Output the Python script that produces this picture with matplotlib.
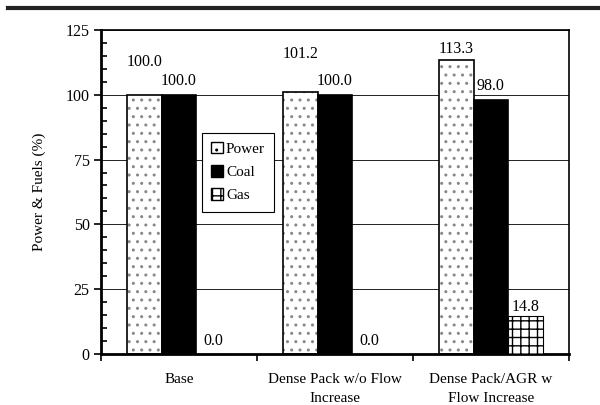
import numpy as np
import matplotlib.pyplot as plt
from matplotlib.lines import Line2D
from matplotlib.patches import Patch
from matplotlib.ticker import MultipleLocator

plt.rcParams['font.family'] = ['Liberation Serif', 'DejaVu Serif']
plt.rcParams['hatch.linewidth'] = 1.0

# data
categories = ['Base', 'Dense Pack w/o Flow\nIncrease', 'Dense Pack/AGR w\nFlow Increase']
power = [100.0, 101.2, 113.3]
coal = [100.0, 100.0, 98.0]
gas = [0.0, 0.0, 14.8]
# vertical offset of the value labels (as placed in the original)
power_lbl_off = [12.5, 14.4, 4.4]
coal_lbl_off = [5.2, 5.2, 5.2]
gas_lbl_off = [5.0, 5.0, 3.4]

fig = plt.figure(figsize=(6, 4.05), dpi=100)
ax = fig.add_axes([0.168, 0.126, 0.78, 0.8])

x = np.arange(len(categories))
w = 0.221

# power: grey dotted pattern, black outline
ax.bar(x - w, power, w, color='white', edgecolor='#888888', hatch='..', linewidth=0, zorder=2)
ax.bar(x - w, power, w, fill=False, edgecolor='black', linewidth=1.2, zorder=3)
ax.bar(x, coal, w, color='black', edgecolor='black', linewidth=1.2, zorder=3)
ax.bar(x + w, gas, w, color='white', edgecolor='black', hatch='++', linewidth=0.8, zorder=3)

for i in range(len(x)):
    ax.text(x[i] - w, power[i] + power_lbl_off[i], f'{power[i]:.1f}', ha='center', va='center', fontsize=11.5)
    ax.text(x[i], coal[i] + coal_lbl_off[i], f'{coal[i]:.1f}', ha='center', va='center', fontsize=11.5)
    ax.text(x[i] + w, gas[i] + gas_lbl_off[i], f'{gas[i]:.1f}', ha='center', va='center', fontsize=11.5)

ax.set_xlim(-0.5, 2.5)
ax.set_ylim(0, 125)
ax.yaxis.set_major_locator(MultipleLocator(25))
ax.yaxis.set_minor_locator(MultipleLocator(5))
ax.tick_params(axis='y', which='major', direction='out', length=5, width=1.2, labelsize=11.5, pad=3)
ax.tick_params(axis='y', which='minor', direction='in', length=4, width=1.2)
ax.grid(axis='y', which='major', color='#222222', linewidth=0.7, zorder=0)
ax.set_axisbelow(True)

ax.set_xticks([-0.5, 0.5, 1.5, 2.5])
ax.set_xticklabels([])
ax.set_xticks(x, minor=True)
ax.set_xticklabels(categories, minor=True, fontsize=11, linespacing=1.6)
ax.tick_params(axis='x', which='major', direction='out', length=5, width=1.2)
ax.tick_params(axis='x', which='minor', length=0, pad=14)

for s in ax.spines.values():
    s.set_linewidth(1.2)
ax.spines['left'].set_linewidth(2)
ax.spines['bottom'].set_linewidth(2)

ax.set_ylabel('Power & Fuels (%)', fontsize=11, labelpad=14)

handles = [Patch(facecolor='white', edgecolor='black', hatch='..'),
           Patch(facecolor='black', edgecolor='black'),
           Patch(facecolor='white', edgecolor='black', hatch='++')]
leg = ax.legend(handles, ['Power', 'Coal', 'Gas'], loc='upper left',
                bbox_to_anchor=(0.199, 0.707), fontsize=11, fancybox=False,
                edgecolor='black', framealpha=1, handlelength=0.8, handleheight=0.8,
                handletextpad=0.2, labelspacing=0.6, borderpad=0.6)
leg.get_frame().set_linewidth(0.8)

fig.add_artist(Line2D([0.013, 1.0], [0.98, 0.98], color='#222222', linewidth=3,
                      transform=fig.transFigure))

fig.savefig('out.png', dpi=100)
